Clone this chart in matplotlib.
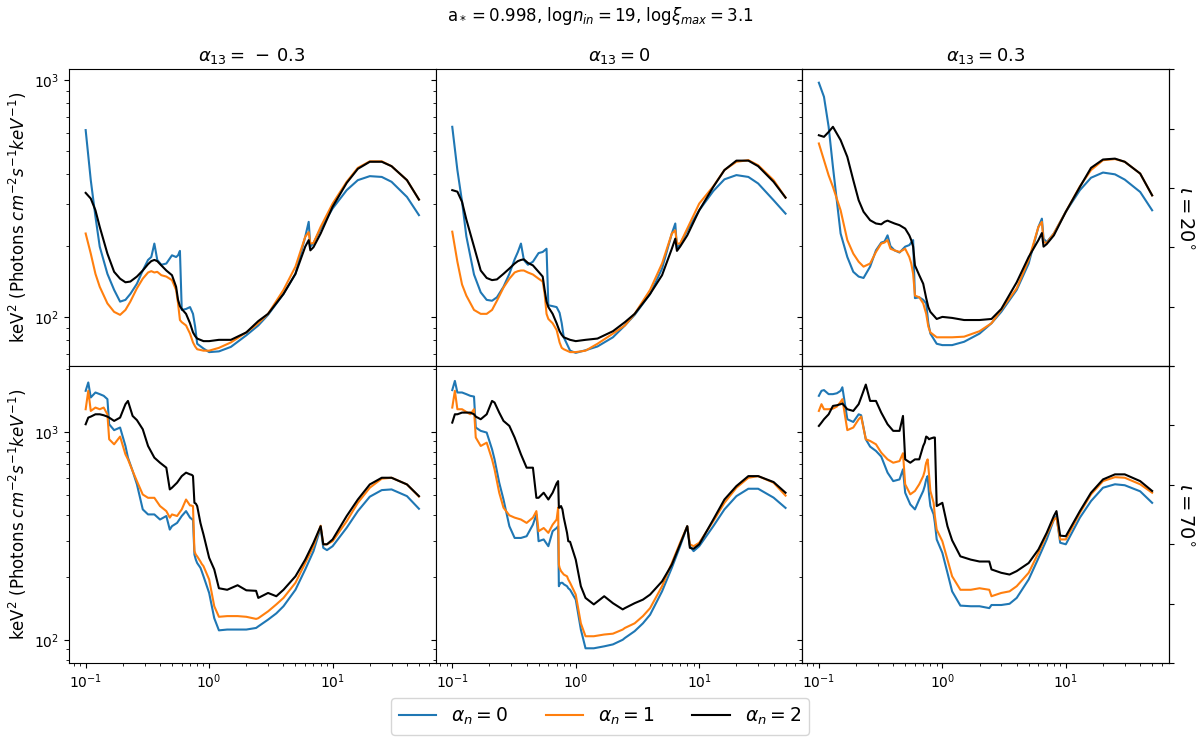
import matplotlib
matplotlib.use("Agg")
import matplotlib.pyplot as plt

# photon energy grids (keV)
energy_top = [0.1, 0.11, 0.12, 0.13, 0.15, 0.17, 0.19, 0.21, 0.23, 0.26,
              0.29, 0.32, 0.34, 0.36, 0.38, 0.41, 0.45, 0.5, 0.54, 0.56,
              0.58, 0.6, 0.65, 0.7, 0.74, 0.77, 0.8, 0.9, 1.0, 1.2,
              1.5, 2, 2.5, 3, 4, 5, 6, 6.4, 6.6, 7,
              8, 10, 13, 16, 20, 25, 30, 40, 50]
energy_bottom = [0.1, 0.105, 0.11, 0.12, 0.13, 0.14, 0.15, 0.155, 0.17, 0.19,
                 0.21, 0.22, 0.24, 0.26, 0.29, 0.32, 0.36, 0.4, 0.45, 0.48,
                 0.5, 0.55, 0.6, 0.65, 0.7, 0.72, 0.73, 0.74, 0.76, 0.78,
                 0.8, 0.85, 0.87, 0.9, 1.0, 1.1, 1.2, 1.4, 1.7, 2,
                 2.4, 2.5, 3, 3.5, 4, 5, 6, 7, 8, 8.4,
                 9, 10, 13, 16, 20, 25, 30, 40, 50]

# inclination 20 deg, alpha13 = -0.3
i20_m03_n0 = [615, 378, 265, 198, 152, 130, 116, 118, 125, 138,
              157, 174, 179, 204, 174, 166, 168, 182, 179, 182,
              190, 107, 108, 110, 103, 91, 77, 73.5, 71, 71.5,
              74.7, 83.6, 92, 102, 125, 152, 218, 252, 198, 205,
              236, 287, 343, 378, 393, 390, 372, 321, 269]
i20_m03_n1 = [225, 185, 152, 134, 114, 105, 102, 107, 116, 132,
              145, 154, 156, 154, 155, 150, 148, 143, 130, 114,
              97, 95, 92, 85, 78, 75, 73, 72, 72, 74,
              78, 86, 94, 103, 130, 163, 218, 228, 204, 205,
              240, 301, 372, 426, 454, 454, 433, 378, 313]
i20_m03_n2 = [334, 316, 282, 240, 185, 155, 145, 140, 141, 148,
              157, 167, 172, 174, 172, 165, 157, 150, 134, 118,
              111, 108, 103, 94, 86, 83, 81, 79, 79, 80,
              80, 86, 96, 103, 125, 152, 198, 211, 191, 197,
              225, 292, 368, 422, 452, 452, 433, 378, 313]

# inclination 20 deg, alpha13 = 0
i20_0_n0 = [635, 417, 307, 219, 151, 127, 118, 117, 121, 134,
            152, 175, 188, 204, 174, 166, 171, 186, 188, 191,
            194, 112, 111, 110, 104, 94, 82, 72, 70.5, 72.3,
            75, 82, 92, 102, 125, 160, 225, 248, 194, 203,
            232, 282, 340, 381, 397, 390, 366, 311, 273]
i20_0_n1 = [229, 171, 137, 123, 107, 103, 103, 107, 117, 133,
            145, 154, 156, 157, 157, 154, 151, 145, 141, 125,
            103, 98, 94, 88, 78, 74, 73, 71, 71, 72,
            77, 85, 92, 103, 130, 168, 225, 232, 204, 204,
            236, 301, 356, 417, 452, 459, 437, 378, 319]
i20_0_n2 = [343, 338, 306, 258, 198, 157, 146, 143, 144, 152,
            160, 168, 172, 174, 175, 169, 165, 155, 148, 130,
            116, 110, 103, 94, 87, 84, 82, 80, 79, 80,
            81, 87, 95, 103, 125, 150, 194, 214, 190, 198,
            221, 282, 354, 417, 457, 457, 433, 372, 319]

# inclination 20 deg, alpha13 = 0.3
i20_p03_n0 = [975, 850, 635, 430, 225, 179, 155, 148, 146, 163,
              191, 206, 208, 221, 199, 191, 187, 198, 201, 206,
              211, 120, 121, 118, 114, 94, 85, 77, 76, 76,
              78.5, 85, 94, 105, 130, 168, 240, 260, 214, 207,
              225, 278, 343, 387, 407, 400, 380, 337, 282]
i20_p03_n1 = [540, 459, 396, 354, 282, 211, 185, 171, 163, 168,
              188, 204, 206, 211, 194, 191, 188, 194, 179, 168,
              152, 123, 121, 114, 103, 91, 86, 82, 82, 82,
              82.5, 87, 94, 107, 132, 174, 240, 252, 207, 205,
              225, 278, 356, 417, 459, 464, 452, 403, 326]
i20_p03_n2 = [585, 576, 604, 635, 558, 474, 378, 311, 278, 256,
              248, 246, 252, 255, 252, 248, 244, 236, 221, 211,
              198, 165, 150, 138, 120, 110, 105, 98, 100, 99,
              97, 97, 98, 108, 140, 179, 211, 226, 198, 203,
              221, 278, 354, 426, 462, 466, 452, 403, 326]

# inclination 70 deg, alpha13 = -0.3
i70_m03_n0 = [1577, 1730, 1465, 1548, 1520, 1492, 1438, 1089, 1020, 1050,
              856, 752, 649, 560, 424, 401, 401, 379, 394, 339,
              352, 365, 394, 416, 387, 382, 379, 379, 257, 243,
              234, 222, 214, 202, 168, 127, 111, 112, 112, 112,
              114, 116, 125, 134, 145, 174, 218, 267, 346, 277,
              270, 282, 346, 416, 488, 525, 529, 491, 427]
i70_m03_n1 = [1286, 1577, 1262, 1310, 1286, 1310, 1216, 922, 872, 950,
              780, 738, 649, 580, 500, 482, 482, 440, 416, 387,
              401, 394, 424, 473, 443, 443, 440, 440, 267, 257,
              252, 238, 232, 226, 195, 145, 129, 130, 130, 129,
              126, 127, 137, 148, 159, 188, 234, 282, 354, 288,
              288, 298, 372, 456, 539, 596, 602, 559, 489]
i70_m03_n2 = [1089, 1172, 1185, 1216, 1216, 1203, 1185, 1172, 1130, 1172,
              1360, 1410, 1194, 1140, 1030, 856, 752, 711, 673, 529,
              539, 570, 613, 637, 625, 622, 619, 613, 456, 452,
              440, 365, 346, 321, 248, 218, 177, 174, 183, 173,
              172, 159, 168, 162, 174, 202, 243, 293, 352, 288,
              288, 304, 394, 473, 559, 602, 602, 559, 491]

# inclination 70 deg, alpha13 = 0
i70_0_n0 = [1590, 1760, 1548, 1548, 1520, 1492, 1480, 1050, 1012, 993,
            825, 738, 570, 473, 352, 309, 309, 315, 358, 401,
            298, 304, 282, 333, 345, 352, 181, 185, 188, 188,
            185, 181, 177, 174, 156, 112, 91, 91, 93, 95,
            100, 102, 110, 120, 132, 171, 222, 282, 352, 282,
            267, 282, 352, 424, 491, 533, 533, 483, 431]
i70_0_n1 = [1310, 1577, 1286, 1286, 1248, 1216, 1286, 940, 856, 888,
            738, 661, 510, 432, 397, 387, 379, 365, 387, 416,
            333, 345, 327, 358, 379, 432, 230, 222, 214, 210,
            206, 202, 195, 188, 165, 120, 104, 104, 106, 107,
            112, 114, 120, 130, 142, 181, 234, 293, 352, 288,
            282, 293, 372, 456, 539, 602, 613, 570, 494]
i70_0_n2 = [1109, 1216, 1216, 1239, 1239, 1239, 1216, 1185, 1151, 1216,
            1410, 1385, 1239, 1130, 1069, 940, 780, 673, 673, 482,
            482, 510, 473, 510, 566, 580, 432, 432, 440, 424,
            387, 327, 298, 296, 243, 181, 159, 148, 162, 150,
            140, 142, 150, 156, 165, 191, 230, 288, 352, 277,
            274, 288, 379, 473, 549, 613, 613, 574, 510]

# inclination 70 deg, alpha13 = 0.3
i70_p03_n0 = [1492, 1577, 1590, 1520, 1520, 1535, 1577, 1640, 1151, 1117,
              1216, 1203, 922, 850, 810, 761, 637, 580, 591, 661,
              510, 448, 424, 473, 520, 549, 570, 591, 613, 501,
              440, 401, 365, 304, 262, 210, 171, 146, 145, 145,
              142, 147, 147, 149, 159, 195, 247, 304, 379, 394,
              293, 288, 387, 465, 539, 560, 554, 518, 456]
i70_p03_n1 = [1262, 1360, 1286, 1286, 1295, 1325, 1395, 1438, 1020, 1050,
              1151, 1185, 922, 905, 872, 795, 738, 711, 724, 790,
              560, 501, 520, 560, 613, 649, 686, 711, 738, 625,
              520, 456, 394, 339, 298, 243, 202, 174, 174, 177,
              174, 162, 168, 171, 181, 210, 262, 321, 379, 387,
              304, 304, 408, 501, 580, 606, 602, 560, 510]
i70_p03_n2 = [1069, 1109, 1151, 1216, 1334, 1344, 1360, 1370, 1286, 1262,
              1360, 1465, 1690, 1410, 1410, 1239, 1089, 1012, 1012, 1194,
              738, 711, 738, 738, 856, 888, 922, 950, 940, 922,
              929, 940, 940, 440, 456, 352, 301, 252, 243, 238,
              238, 218, 210, 206, 214, 234, 272, 327, 394, 416,
              317, 315, 416, 510, 591, 625, 625, 580, 520]

alpha13_labels = [r"$\alpha_{13}=\,-\,0.3$", r"$\alpha_{13}=0$", r"$\alpha_{13}=0.3$"]
incl_labels = [r"$\iota=20^{\circ}$", r"$\iota=70^{\circ}$"]
alpha_n_labels = [r"$\alpha_n=0$", r"$\alpha_n=1$", r"$\alpha_n=2$"]
colors = ["#1f77b4", "#ff7f0e", "k"]

rows = [
    (energy_top, [[i20_m03_n0, i20_m03_n1, i20_m03_n2],
                  [i20_0_n0, i20_0_n1, i20_0_n2],
                  [i20_p03_n0, i20_p03_n1, i20_p03_n2]]),
    (energy_bottom, [[i70_m03_n0, i70_m03_n1, i70_m03_n2],
                     [i70_0_n0, i70_0_n1, i70_0_n2],
                     [i70_p03_n0, i70_p03_n1, i70_p03_n2]]),
]
ylims = [(62, 1112), (77.4, 2075)]

fig, axes = plt.subplots(2, 3, sharex=True, sharey="row", figsize=(12, 7.44), dpi=100)
plt.subplots_adjust(left=0.0575, right=0.974, top=0.907, bottom=0.109, wspace=0, hspace=0)

for r, (energy, panels) in enumerate(rows):
    for c, spectra in enumerate(panels):
        ax = axes[r, c]
        for flux, col, lab in zip(spectra, colors, alpha_n_labels):
            ax.loglog(energy, flux, color=col, label=lab, lw=1.5)
        ax.set_ylim(*ylims[r])
        if r == 0:
            ax.set_title(alpha13_labels[c], fontsize=13)
        if c == 0:
            ax.set_ylabel(r"keV$^2$ (Photons $cm^{-2}s^{-1}keV^{-1}$)", fontsize=12)
        if c == 2:
            twin = ax.twinx()
            twin.set_yticklabels([])
            twin.set_ylabel(incl_labels[r], rotation=270, fontsize=14, labelpad=11)

fig.suptitle(r"a$_*=0.998$, log$n_{in}=19$, log$\xi_{max}=3.1$", fontsize=12, y=0.993)

handles, labels = axes[0, 0].get_legend_handles_labels()
fig.legend(handles, labels, loc="lower center", ncol=3, fontsize=13.5,
           bbox_to_anchor=(0.5, 0.0))

plt.savefig("out.png", dpi=100)
